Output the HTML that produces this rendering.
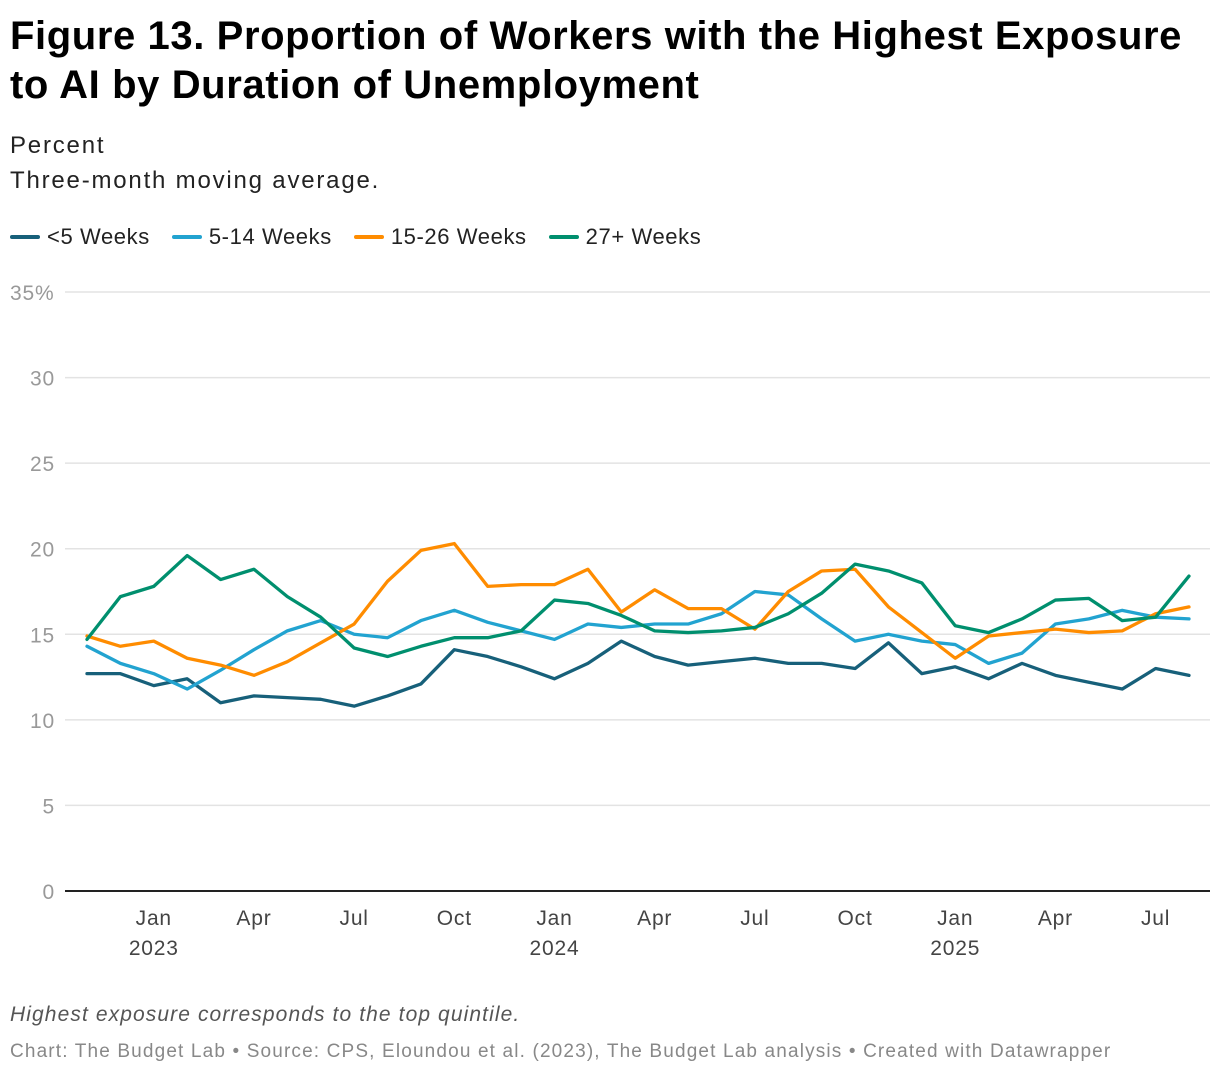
<!DOCTYPE html>
<html><head><meta charset="utf-8"><style>
body{margin:0;width:1220px;height:1076px;background:#fff;font-family:"Liberation Sans",Arial,sans-serif;overflow:hidden;position:relative}
h1{position:absolute;left:10px;top:12px;margin:0;font-size:40px;line-height:49px;font-weight:700;color:#000;letter-spacing:0.6px}
.sub{position:absolute;left:10px;font-size:24px;color:#222;letter-spacing:1.8px}
.leg{position:absolute;top:224px;left:10px;display:flex;font-size:22px;color:#222;letter-spacing:0.6px}
.li{display:flex;align-items:center;margin-right:22px}
.sw{width:30px;height:4px;margin-right:7px;border-radius:2px}
.note{position:absolute;left:10px;top:1003px;font-size:21px;font-style:italic;color:#555;letter-spacing:1.1px}
.src{position:absolute;left:10px;top:1041px;font-size:19px;color:#888;letter-spacing:1.15px}
</style></head><body>
<h1>Figure 13. Proportion of Workers with the Highest Exposure<br>to AI by Duration of Unemployment</h1>
<div class="sub" style="top:132px">Percent</div>
<div class="sub" style="top:167px">Three-month moving average.</div>
<div class="leg">
<div class="li"><span class="sw" style="background:#17607a"></span>&lt;5 Weeks</div>
<div class="li"><span class="sw" style="background:#22a3d0"></span>5-14 Weeks</div>
<div class="li"><span class="sw" style="background:#ff8c00"></span>15-26 Weeks</div>
<div class="li"><span class="sw" style="background:#008f6e"></span>27+ Weeks</div>
</div>
<svg id="chart" width="1220" height="1076" style="position:absolute;left:0;top:0"></svg>
<div class="note">Highest exposure corresponds to the top quintile.</div>
<div class="src">Chart: The Budget Lab • Source: CPS, Eloundou et al. (2023), The Budget Lab analysis • Created with Datawrapper</div>
<script>
const yTicks=[0,5,10,15,20,25,30,35];
const yTickLabels=["0","5","10","15","20","25","30","35%"];
const xTickIdx=[2,5,8,11,14,17,20,23,26,29,32];
const xTickLabels=["Jan","Apr","Jul","Oct","Jan","Apr","Jul","Oct","Jan","Apr","Jul"];
const yearIdx=[2,14,26];
const yearLabels=["2023","2024","2025"];
const lt5=[12.7,12.7,12.0,12.4,11.0,11.4,11.3,11.2,10.8,11.4,12.1,14.1,13.7,13.1,12.4,13.3,14.6,13.7,13.2,13.4,13.6,13.3,13.3,13.0,14.5,12.7,13.1,12.4,13.3,12.6,12.2,11.8,13.0,12.6];
const w5_14=[14.3,13.3,12.7,11.8,12.9,14.1,15.2,15.8,15.0,14.8,15.8,16.4,15.7,15.2,14.7,15.6,15.4,15.6,15.6,16.2,17.5,17.3,15.9,14.6,15.0,14.6,14.4,13.3,13.9,15.6,15.9,16.4,16.0,15.9];
const w15_26=[14.9,14.3,14.6,13.6,13.2,12.6,13.4,14.5,15.6,18.1,19.9,20.3,17.8,17.9,17.9,18.8,16.3,17.6,16.5,16.5,15.3,17.5,18.7,18.8,16.6,15.1,13.6,14.9,15.1,15.3,15.1,15.2,16.2,16.6];
const w27=[14.7,17.2,17.8,19.6,18.2,18.8,17.2,16.0,14.2,13.7,14.3,14.8,14.8,15.2,17.0,16.8,16.1,15.2,15.1,15.2,15.4,16.2,17.4,19.1,18.7,18.0,15.5,15.1,15.9,17.0,17.1,15.8,16.0,18.4];
const svg=document.getElementById('chart');const NS='http://www.w3.org/2000/svg';
const y=v=>891-v*(599/35);
const x=i=>87+i*(1102/33);
function mk(t,a){const e=document.createElementNS(NS,t);for(const k in a)e.setAttribute(k,a[k]);svg.appendChild(e);return e;}
yTicks.forEach((v,i)=>{
 const l=mk('line',{x1:65,x2:1210,y1:y(v),y2:y(v),stroke:v===0?'#222':'#e3e3e3','stroke-width':v===0?2:1.5});
 
 
 const t=mk('text',{x:v===35?10:55,y:y(v)+8,'font-size':21,fill:'#999','text-anchor':v===35?'start':'end','font-family':'Liberation Sans, sans-serif','letter-spacing':0.8});
 t.textContent=yTickLabels[i];
 
 
});
xTickIdx.forEach((d,i)=>{
 const t=mk('text',{x:x(d),y:925,'font-size':21,fill:'#444','text-anchor':'middle','font-family':'Liberation Sans, sans-serif','letter-spacing':0.8});
 t.textContent=xTickLabels[i];
 
 
});
yearIdx.forEach((d,i)=>{
 const t=mk('text',{x:x(d),y:955,'font-size':21,fill:'#444','text-anchor':'middle','font-family':'Liberation Sans, sans-serif','letter-spacing':0.8});
 t.textContent=yearLabels[i];
 
 
});
[[lt5,'#17607a','line-lt5-weeks'],[w5_14,'#22a3d0','line-5-14-weeks'],[w15_26,'#ff8c00','line-15-26-weeks'],[w27,'#008f6e','line-27plus-weeks']].forEach(([d,c,n])=>{
 const p=mk('polyline',{points:d.map((v,i)=>x(i)+','+y(v)).join(' '),fill:'none',stroke:c,'stroke-width':3.3,'stroke-linejoin':'round','stroke-linecap':'round'});
 
 
});
</script>
</body></html>
